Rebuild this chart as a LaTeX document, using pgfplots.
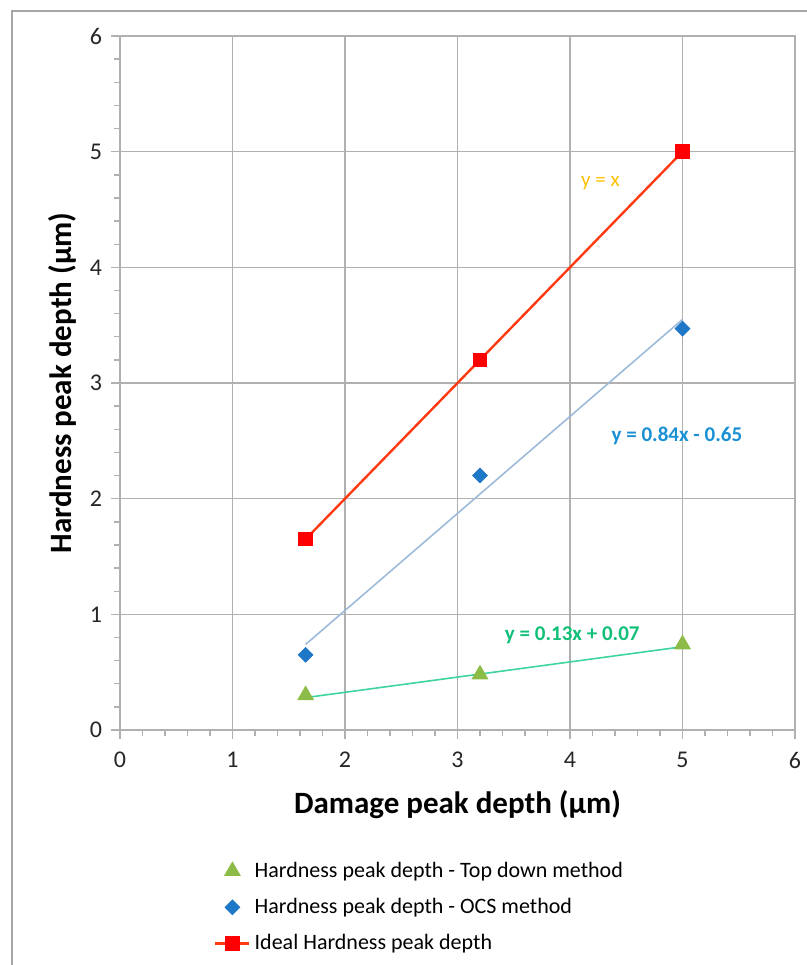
\documentclass[border=0pt]{standalone}
\usepackage{pgfplots}
\pgfplotsset{compat=1.18}
\usepackage{fontspec}
\setmainfont{Carlito}

\definecolor{gridgray}{HTML}{B0B0B0}
\definecolor{framegray}{HTML}{A6A6A6}
\definecolor{idealred}{HTML}{FF0000}
\definecolor{idealline}{HTML}{FF3A12}
\definecolor{ocsblue}{HTML}{1F77C8}
\definecolor{ocstrend}{HTML}{9DBAD8}
\definecolor{tdgreen}{HTML}{8DBB47}
\definecolor{tdtrend}{HTML}{3ED49C}
\definecolor{eqgreen}{HTML}{10BF78}
\definecolor{eqblue}{HTML}{1A90D4}
\definecolor{eqgold}{HTML}{FFC000}

\begin{document}
\begin{tikzpicture}
% page = 807 x 965 px at 0.5pt per px
\useasboundingbox (0,0) rectangle (403.5pt,482.5pt);
\draw[framegray, line width=0.7pt] (6pt,0pt) -- (6pt,477pt) -- (403.5pt,477pt);

\begin{axis}[
    at={(60pt,117.5pt)}, anchor=south west,
    scale only axis,
    width=337.5pt, height=347pt,
    xmin=0, xmax=6, ymin=0, ymax=6,
    xtick={0,1,2,3,4,5,6},
    ytick={0,1,2,3,4,5,6},
    minor tick num=4,
    xtick pos=bottom, ytick pos=left,
    tick align=outside,
    major tick length=4.5pt,
    minor tick length=3pt,
    tick style={gridgray, line width=0.7pt},
    axis line style={gridgray, line width=0.7pt},
    grid=major,
    major grid style={gridgray, line width=0.7pt},
    ticklabel style={font=\fontsize{12}{14}\selectfont, text=black!85},
    /pgf/number format/assume math mode=true,
    xticklabel style={yshift=-3pt},
    yticklabel style={xshift=-1pt},
    xlabel={\textbf{Damage peak depth (μm)}},
    ylabel={\textbf{Hardness peak depth (μm)}},
    label style={font=\fontsize{15.5}{18}\selectfont},
    xlabel style={at={([yshift=-37.5pt]axis description cs:0.5,0)}, anchor=center},
    ylabel style={at={([xshift=-29pt]axis description cs:0,0.5)}, anchor=center},
    legend style={
        at={(rel axis cs:0.13,-0.178)}, anchor=north west,
        draw=none, fill=none,
        font=\fontsize{11}{13}\selectfont,
        row sep=5pt,
        legend cell align=left,
    },
    legend image code/.code={
        \draw[#1, mark repeat=2, mark phase=2] plot coordinates {(0cm,0cm) (0.3cm,0cm) (0.6cm,0cm)};
    },
]

% trendlines
\addplot[tdtrend, line width=0.8pt, forget plot] coordinates {(1.65,0.28) (5,0.72)};
\addplot[ocstrend, line width=0.8pt, forget plot] coordinates {(1.65,0.74) (5,3.55)};

\addplot[only marks, mark=triangle*, mark size=4.5pt, tdgreen] coordinates {
    (1.65,0.30) (3.2,0.48) (5,0.74)
};
\addlegendentry{Hardness peak depth - Top down method}

\addplot[only marks, mark=square*, mark size=2.6pt, mark options={rotate=45}, ocsblue] coordinates {
    (1.65,0.65) (3.2,2.20) (5,3.47)
};
\addlegendentry{Hardness peak depth - OCS method}

\addplot[idealline, line width=1.2pt, mark=square*, mark size=3pt,
    mark options={idealred, solid}] coordinates {
    (1.65,1.65) (3.2,3.2) (5,5)
};
\addlegendentry{Ideal Hardness peak depth}

\node[text=eqgold, font=\fontsize{10.5}{12}\selectfont] at (axis cs:4.27,4.73) {y = x};
\node[text=eqblue, font=\bfseries\fontsize{10.5}{12}\selectfont] at (axis cs:4.95,2.54) {y = 0.84x - 0.65};
\node[text=eqgreen, font=\bfseries\fontsize{10.5}{12}\selectfont] at (axis cs:4.02,0.82) {y = 0.13x + 0.07};
\end{axis}
\end{tikzpicture}
\end{document}
